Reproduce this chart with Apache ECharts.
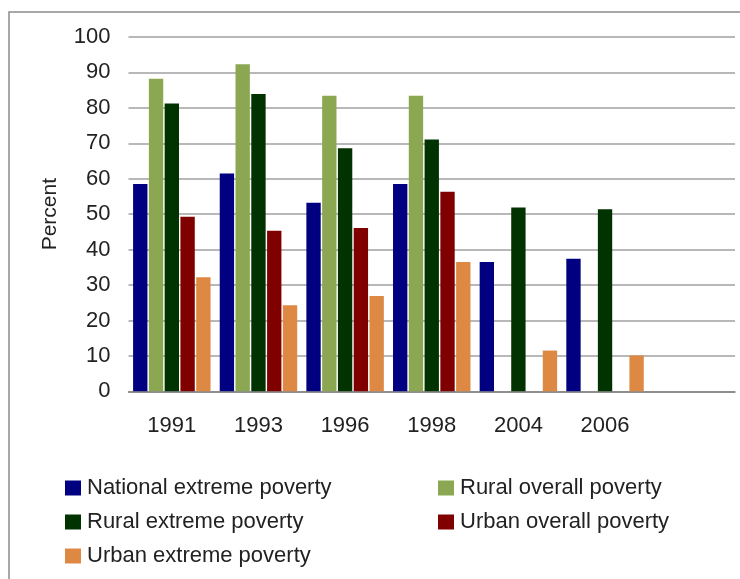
<!DOCTYPE html>
<html>
<head>
<meta charset="utf-8">
<script src="https://cdn.jsdelivr.net/npm/echarts@6/dist/echarts.min.js"></script>
<style>html,body{margin:0;padding:0;background:#fff}#c{width:740px;height:579px}</style>
</head>
<body>
<div id="c"></div>
<script>
const categories = ['1991', '1993', '1996', '1998', '2004', '2006', ''];
const nationalExtreme = [58.5, 61.5, 53.2, 58.5, 36.5, 37.4, null];
const ruralOverall = [88.2, 92.3, 83.4, 83.4, null, null, null];
const ruralExtreme = [81.2, 83.9, 68.6, 71.1, 51.9, 51.4, null];
const urbanOverall = [49.3, 45.3, 46.1, 56.3, null, null, null];
const urbanExtreme = [32.2, 24.3, 26.9, 36.5, 11.5, 10.1, null];
const yTicks = { min: 0, max: 100, interval: 10 };

const FONT = "'Liberation Sans', Arial, sans-serif";
const chart = echarts.init(document.getElementById('c'), null, { renderer: 'canvas' });

function bar(name, data, color) {
  return {
    name, type: 'bar', data,
    barGap: '10%', barCategoryGap: '10.6%',
    itemStyle: { color },
    emphasis: { disabled: true }
  };
}

const legendText = { color: '#222', fontFamily: FONT, fontSize: 22, lineHeight: 22, padding: [0, 0, 0, 1] };

chart.setOption({
  animation: false,
  backgroundColor: '#fff',
  graphic: [{
    type: 'rect', z: -1,
    shape: { x: 9, y: 12, width: 900, height: 900 },
    style: { fill: 'none', stroke: '#8c8c8c', lineWidth: 1.5 }
  }],
  grid: { left: 128.5, right: 5, top: 37, bottom: 187.7 },
  xAxis: {
    type: 'category', data: categories,
    axisTick: { show: false },
    axisLine: { lineStyle: { color: '#808080', width: 1.5 } },
    axisLabel: { color: '#222', fontFamily: FONT, fontSize: 22, margin: 24 }
  },
  yAxis: {
    type: 'value', min: yTicks.min, max: yTicks.max, interval: yTicks.interval,
    name: 'Percent', nameLocation: 'middle', nameGap: 68, nameRotate: 90,
    nameTextStyle: { color: '#222', fontFamily: FONT, fontSize: 21 },
    axisLine: { show: false }, axisTick: { show: false },
    axisLabel: { color: '#222', fontFamily: FONT, fontSize: 22, margin: 18 },
    splitLine: { lineStyle: { color: '#a0a0a0', width: 1.5 } }
  },
  legend: [{
    data: ['National extreme poverty', 'Rural extreme poverty', 'Urban extreme poverty'],
    orient: 'vertical', left: 60, top: 472, height: 100,
    icon: 'rect', itemWidth: 16, itemHeight: 15, itemGap: 12,
    textStyle: legendText,
    selectedMode: false
  }, {
    data: ['Rural overall poverty', 'Urban overall poverty'],
    orient: 'vertical', left: 433, top: 472, height: 100,
    icon: 'rect', itemWidth: 16, itemHeight: 15, itemGap: 12,
    textStyle: legendText,
    selectedMode: false
  }],
  series: [
    bar('National extreme poverty', nationalExtreme, '#000080'),
    bar('Rural overall poverty', ruralOverall, '#8BA752'),
    bar('Rural extreme poverty', ruralExtreme, '#003300'),
    bar('Urban overall poverty', urbanOverall, '#800000'),
    bar('Urban extreme poverty', urbanExtreme, '#DD8843')
  ]
});
</script>
</body>
</html>
